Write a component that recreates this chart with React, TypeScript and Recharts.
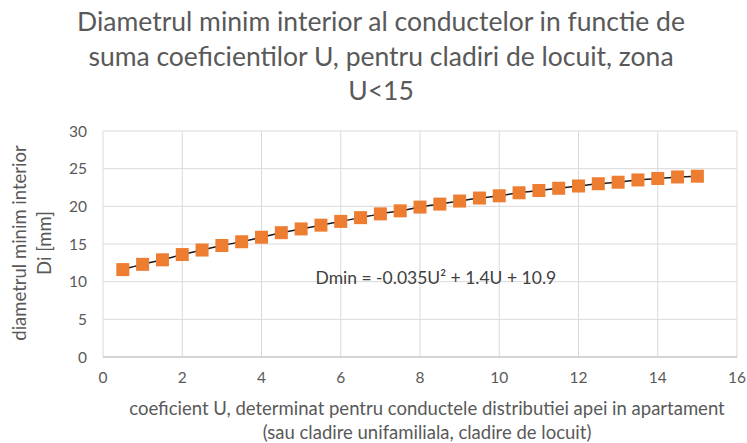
import React from "react"
import {
  ComposedChart,
  Scatter,
  Line,
  XAxis,
  YAxis,
  CartesianGrid,
  ReferenceDot,
} from "recharts"

const uValues = [
  0.5, 1, 1.5, 2, 2.5, 3, 3.5, 4, 4.5, 5, 5.5, 6, 6.5, 7, 7.5, 8, 8.5, 9, 9.5,
  10, 10.5, 11, 11.5, 12, 12.5, 13, 13.5, 14, 14.5, 15,
]
const dValues = [
  11.6, 12.3, 12.9, 13.6, 14.2, 14.8, 15.3, 15.9, 16.5, 17.0, 17.5, 18.0, 18.5,
  19.0, 19.4, 19.9, 20.3, 20.7, 21.1, 21.4, 21.8, 22.1, 22.4, 22.7, 23.0, 23.2,
  23.5, 23.7, 23.9, 24.0,
]
const xTicks = [0, 2, 4, 6, 8, 10, 12, 14, 16]
const yTicks = [0, 5, 10, 15, 20, 25, 30]
const titleLines = [
  "Diametrul minim interior al conductelor in functie de",
  "suma coeficientilor U, pentru cladiri de locuit, zona",
  "U<15",
]
const yLabelLines = ["diametrul minim interior", "Di [mm]"]
const xLabelLines = [
  "coeficient U, determinat pentru conductele distributiei apei in apartament",
  "(sau cladire unifamiliala, cladire de locuit)",
]
const equation = "Dmin = -0.035U\u00b2 + 1.4U + 10.9"

const data = uValues.map((u, i) => ({ u, d: dValues[i] }))

const FONT = "Lato, 'Open Sans', sans-serif"
const GRAY = "#595959"

const Square = (props: any) => {
  const { cx, cy } = props
  if (cx == null || cy == null) return null
  return <rect x={cx - 6.5} y={cy - 6.5} width={13} height={13} fill="#ED7D31" />
}

const EquationLabel = (props: any) => {
  const { viewBox } = props
  return (
    <text
      x={viewBox.x}
      y={viewBox.y}
      textAnchor="middle"
      dominantBaseline="central"
      fill="#404040"
      fontSize={17.5}
      fontFamily={FONT}
    >
      {equation}
    </text>
  )
}

export default function App() {
  return (
    <div style={{ position: "absolute", left: 0, top: 0, width: 747, height: 443, background: "#fff", fontFamily: FONT, color: GRAY }}>
      <div
        style={{
          position: "absolute",
          left: 0,
          top: 4,
          width: 762,
          textAlign: "center",
          fontSize: 26.5,
          lineHeight: "34.5px",
        }}
      >
        {titleLines.map((t, i) => (
          <div key={i}>{t}</div>
        ))}
      </div>
      <div
        style={{
          position: "absolute",
          left: 427 - 400,
          top: 396,
          width: 800,
          textAlign: "center",
          fontSize: 18.5,
          lineHeight: "24px",
        }}
      >
        {xLabelLines.map((t, i) => (
          <div key={i}>{t}</div>
        ))}
      </div>
      <div
        style={{
          position: "absolute",
          left: 32 - 150,
          top: 243 - 25,
          width: 300,
          height: 50,
          textAlign: "center",
          fontSize: 18.5,
          lineHeight: "25px",
          transform: "rotate(-90deg)",
          transformOrigin: "150px 25px",
          zIndex: 1,
        }}
      >
        {yLabelLines.map((t, i) => (
          <div key={i}>{t}</div>
        ))}
      </div>
      <ComposedChart
        width={747}
        height={443}
        data={data}
        margin={{ top: 131, right: 10, bottom: 0, left: 0 }}
      >
        <CartesianGrid stroke="#d9d9d9" />
        <XAxis
          type="number"
          dataKey="u"
          domain={[0, 16]}
          ticks={xTicks}
          height={86}
          tickSize={0}
          tickMargin={15}
          stroke="#bfbfbf"
          tick={{ fill: GRAY, fontSize: 15.5, fontFamily: FONT }}
        />
        <YAxis
          type="number"
          domain={[0, 30]}
          ticks={yTicks}
          width={103}
          axisLine={false}
          tickSize={0}
          tickMargin={16}
          tick={{ fill: GRAY, fontSize: 15.5, fontFamily: FONT }}
        />
        <Scatter dataKey="d" shape={<Square />} isAnimationActive={false} />
        <Line
          dataKey="d"
          type="monotone"
          stroke="#1a1a1a"
          strokeWidth={1.5}
          dot={false}
          isAnimationActive={false}
        />
        <ReferenceDot x={8.4} y={10.5} r={0} fill="none" stroke="none" label={<EquationLabel />} />
      </ComposedChart>
    </div>
  )
}
